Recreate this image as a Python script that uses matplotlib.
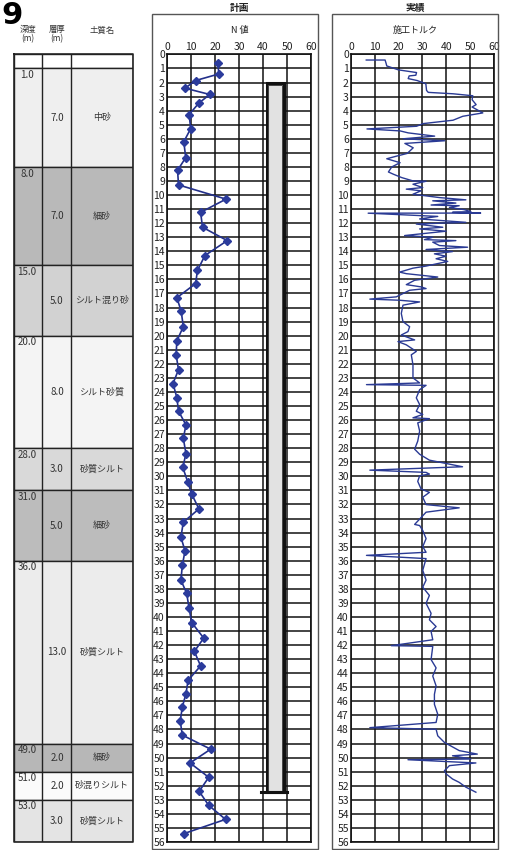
import matplotlib
matplotlib.use("Agg")
import matplotlib.pyplot as plt
from matplotlib.patches import Rectangle

plt.rcParams["font.family"] = ["Noto Sans CJK JP", "DejaVu Sans"]

W, H = 506, 850

# 土質柱状図
layer_top = [1.0, 8.0, 15.0, 20.0, 28.0, 31.0, 36.0, 49.0, 51.0, 53.0]
layer_thk = [7.0, 7.0, 5.0, 8.0, 3.0, 5.0, 13.0, 2.0, 2.0, 3.0]
layer_name = ["中砂", "細砂", "シルト混り砂", "シルト砂質", "砂質シルト",
              "細砂", "砂質シルト", "細砂", "砂混りシルト", "砂質シルト"]
layer_color = ["#efefef", "#b9b9b9", "#d2d2d2", "#f4f4f4", "#d9d9d9",
               "#bcbcbc", "#ececec", "#b7b7b7", "#fbfbfb", "#e4e4e4"]

# 計画 N値
n_depth = [0.63, 1.39, 1.86, 2.40, 2.85, 3.46, 4.28, 5.27, 6.21, 7.34, 8.24, 9.28,
           10.29, 11.23, 12.29, 13.24, 14.30, 15.36, 16.30, 17.30, 18.25, 19.36,
           20.37, 21.36, 22.42, 23.40, 24.40, 25.36, 26.35, 27.30, 28.38, 29.37,
           30.38, 31.26, 32.32, 33.26, 34.32, 35.30, 36.32, 37.38, 38.32, 39.38,
           40.40, 41.50, 42.45, 43.48, 44.50, 45.45, 46.40, 47.40, 48.40, 49.40,
           50.38, 51.40, 52.40, 53.40, 54.39, 55.40]
n_value = [21.2, 21.6, 11.9, 7.5, 17.8, 13.3, 9.2, 9.9, 7.0, 7.8, 4.4, 4.8,
           24.6, 14.0, 14.8, 25.1, 15.8, 12.7, 11.9, 4.1, 5.9, 6.8,
           4.1, 3.8, 4.8, 2.5, 4.1, 4.8, 7.9, 6.8, 7.9, 6.6,
           8.6, 10.3, 13.3, 6.8, 5.8, 7.5, 6.4, 5.8, 8.2, 9.2,
           10.3, 15.3, 11.4, 14.0, 8.8, 7.9, 6.4, 5.5, 6.4, 18.2,
           9.6, 17.4, 13.4, 17.4, 24.4, 7.1]

# 実績 施工トルク
t_depth = [0.40, 0.40, 0.62, 0.82, 1.10, 1.22, 1.29, 1.48, 1.53, 1.72, 1.86, 2.09,
           2.56, 2.70, 2.80, 2.94, 3.22, 3.57, 3.74, 4.16, 4.40, 4.68, 4.92, 5.11,
           5.30, 5.44, 5.58, 5.81, 6.00, 6.14, 6.33, 6.64, 7.04, 7.23, 7.42, 7.70,
           8.00, 8.36, 8.52, 8.76, 9.00, 9.02, 9.23, 9.47, 9.58, 9.70, 9.94, 10.18,
           10.34, 10.41, 10.57, 10.71, 10.76, 10.88, 11.04, 11.18, 11.23, 11.28, 11.29, 11.52,
           11.70, 11.94, 12.06, 12.29, 12.41, 12.57, 12.88, 13.00, 13.17, 13.24, 13.35, 13.59,
           13.71, 13.87, 14.02, 14.18, 14.35, 14.53, 14.72, 15.05, 15.20, 15.48, 15.59, 15.83,
           16.06, 16.37, 16.53, 16.65, 16.77, 17.24, 17.40, 17.48, 17.60, 17.83, 18.42, 19.00,
           19.36, 19.71, 19.95, 20.30, 20.42, 20.65, 21.12, 21.36, 22.07, 23.00, 23.36, 23.48,
           23.53, 23.84, 24.42, 24.90, 25.37, 25.60, 25.84, 25.90, 26.20, 26.78, 27.50, 28.07,
           28.43, 28.85, 29.32, 29.56, 29.72, 29.84, 29.96, 30.36, 30.90, 31.14, 31.49, 32.01,
           32.24, 32.55, 33.42, 33.50, 33.85, 34.43, 35.00, 35.40, 35.62, 35.85, 36.68, 37.38,
           37.88, 38.47, 39.03, 39.74, 40.20, 40.68, 41.03, 41.62, 42.04, 42.09, 43.03, 43.62,
           44.20, 44.90, 45.50, 46.21, 46.92, 47.50, 47.87, 47.98, 48.45, 48.92, 49.50, 49.75,
           49.87, 50.10, 50.15, 50.38, 50.57, 50.93, 51.17, 51.52, 51.76, 52.10, 52.46]
torque = [6.4, 14.3, 14.7, 15.0, 19.9, 24.7, 27.5, 27.2, 24.4, 24.0, 27.8, 31.4,
          31.7, 32.4, 42.8, 51.1, 50.8, 52.5, 50.8, 55.3, 46.9, 42.8, 30.3, 27.5,
          6.7, 20.6, 24.0, 35.1, 21.9, 39.3, 22.6, 26.1, 23.6, 19.2, 15.0, 20.6,
          17.1, 15.7, 17.8, 21.3, 26.1, 31.5, 26.0, 30.1, 23.2, 29.4, 26.0, 37.1,
          48.2, 34.3, 44.0, 33.6, 45.4, 41.3, 47.5, 50.3, 42.6, 54.4, 7.2, 36.4,
          28.8, 48.2, 27.4, 38.5, 28.8, 39.9, 22.5, 34.3, 30.8, 44.0, 34.3, 37.1,
          48.9, 31.5, 42.6, 35.0, 39.9, 35.7, 40.6, 31.5, 26.0, 20.4, 23.2, 36.4,
          26.7, 23.2, 29.4, 31.5, 24.6, 19.0, 7.9, 20.4, 28.8, 21.8, 21.1, 21.8,
          24.6, 23.9, 21.1, 26.7, 19.7, 23.2, 27.4, 25.3, 26.0, 26.0, 28.8, 6.5,
          31.5, 28.8, 27.4, 28.8, 27.4, 30.1, 26.0, 32.9, 28.0, 28.8, 28.0, 26.7,
          28.8, 32.9, 46.8, 7.9, 31.5, 32.9, 28.8, 28.0, 29.4, 32.9, 30.1, 31.5,
          45.4, 31.5, 26.7, 28.8, 30.1, 31.5, 30.1, 31.5, 6.5, 31.5, 30.1, 31.5,
          30.1, 32.9, 31.5, 33.6, 32.9, 35.7, 33.6, 34.3, 16.9, 34.3, 33.6, 35.7,
          34.3, 35.7, 35.0, 35.0, 36.4, 35.7, 7.9, 35.7, 36.4, 39.2, 45.4, 53.0,
          42.6, 50.3, 23.9, 52.4, 41.3, 39.2, 40.0, 42.6, 45.4, 48.2, 52.4]

# 杭 (計画図の長方形)
pile_left, pile_right = 41.5, 48.6
pile_top, pile_bottom = 2.05, 52.45
base_left, base_right = 39.0, 50.2

fig = plt.figure(figsize=(W / 100, H / 100), dpi=100)


def px_axes(x0, y0, x1, y1):
    return fig.add_axes([x0 / W, 1 - y1 / H, (x1 - x0) / W, (y1 - y0) / H])


y_top, y_bot = 54.4, 842.0

# ---- 土質柱状図 ----
ax_s = px_axes(14, y_top, 133, y_bot)
ax_s.set_xlim(0, 119)
ax_s.set_ylim(56, 0)
ax_s.axis("off")
ax_s.add_patch(Rectangle((0, 0), 119, 1, facecolor="white", edgecolor="#222", lw=1.0))
for top, thk, name, col in zip(layer_top, layer_thk, layer_name, layer_color):
    bot = min(top + thk, 56)
    ax_s.add_patch(Rectangle((0, top), 119, bot - top, facecolor=col,
                             edgecolor="#222", lw=1.0))
    ax_s.text(13, top + 0.12, f"{top:.1f}", ha="center", va="top",
              fontsize=7, color="#333")
    mid = (top + bot) / 2
    ax_s.text(43, mid, f"{thk:.1f}", ha="center", va="center", fontsize=7, color="#333")
    ax_s.text(88, mid, name, ha="center", va="center", fontsize=6.5, color="#333")
for xc in [28, 57]:
    ax_s.plot([xc, xc], [0, 56], color="#222", lw=1.0)
ax_s.plot([0, 119, 119, 0, 0], [0, 0, 56, 56, 0], color="#222", lw=1.2, clip_on=False)

fig.text(28 / W, 1 - 34 / H, "深度\n(m)", ha="center", va="center", fontsize=6,
         color="#333", linespacing=1.0)
fig.text(57 / W, 1 - 34 / H, "層厚\n(m)", ha="center", va="center", fontsize=6,
         color="#333", linespacing=1.0)
fig.text(102 / W, 1 - 30 / H, "土質名", ha="center", va="center", fontsize=6, color="#333")
fig.text(1 / W, 1 - 1 / H, "9", ha="left", va="top", fontsize=22,
         fontweight="bold", color="black", family="DejaVu Sans")


def setup_grid(ax):
    ax.set_xlim(0, 60)
    ax.set_ylim(56, 0)
    ax.set_xticks(range(0, 61, 10))
    ax.set_yticks(range(0, 57))
    ax.xaxis.tick_top()
    ax.tick_params(length=0, labelsize=7.5, pad=1.5, colors="#222")
    ax.grid(True, color="#111", lw=1.1)
    ax.set_axisbelow(True)
    for sp in ax.spines.values():
        sp.set_color("#111")
        sp.set_linewidth(1.2)


# ---- 計画 ----
fig.patches.append(Rectangle((152 / W, 1 - 849 / H), 166 / W, 835 / H,
                             transform=fig.transFigure, fill=False,
                             edgecolor="#555", lw=1.0))
fig.text(240 / W, 1 - 8 / H, "計画", ha="center", va="center", fontsize=7,
         fontweight="bold", color="#222")
fig.text(240 / W, 1 - 30 / H, "N 値", ha="center", va="center", fontsize=6.5, color="#222")
ax_n = px_axes(167, y_top, 311, y_bot)
setup_grid(ax_n)
ax_n.add_patch(Rectangle((pile_left, pile_top), pile_right - pile_left,
                         pile_bottom - pile_top, facecolor="#e2e2e2",
                         edgecolor="#111", lw=2.2, zorder=3))
ax_n.add_patch(Rectangle((pile_left + 0.6, pile_top + 0.1), pile_right - pile_left - 1.2,
                         pile_bottom - pile_top - 0.1, fill=False,
                         edgecolor="#444", lw=0.7, zorder=3))
ax_n.plot([base_left, base_right], [pile_bottom, pile_bottom], color="#111", lw=2.2, zorder=4)
ax_n.plot(n_value, n_depth, color="#23308a", lw=1.2, marker="D", markersize=4.5,
          markerfacecolor="#2b3b9c", markeredgecolor="#2b3b9c", zorder=5)

# ---- 実績 ----
fig.patches.append(Rectangle((332 / W, 1 - 849 / H), 166 / W, 835 / H,
                             transform=fig.transFigure, fill=False,
                             edgecolor="#555", lw=1.0))
fig.text(415 / W, 1 - 8 / H, "実績", ha="center", va="center", fontsize=7,
         fontweight="bold", color="#222")
fig.text(415 / W, 1 - 30 / H, "施工トルク", ha="center", va="center", fontsize=6.5,
         color="#222")
ax_t = px_axes(351, y_top, 494, y_bot)
setup_grid(ax_t)
ax_t.plot(torque, t_depth, color="#2a3a94", lw=1.0, zorder=5)

fig.savefig("out.png", dpi=100, facecolor="white")
